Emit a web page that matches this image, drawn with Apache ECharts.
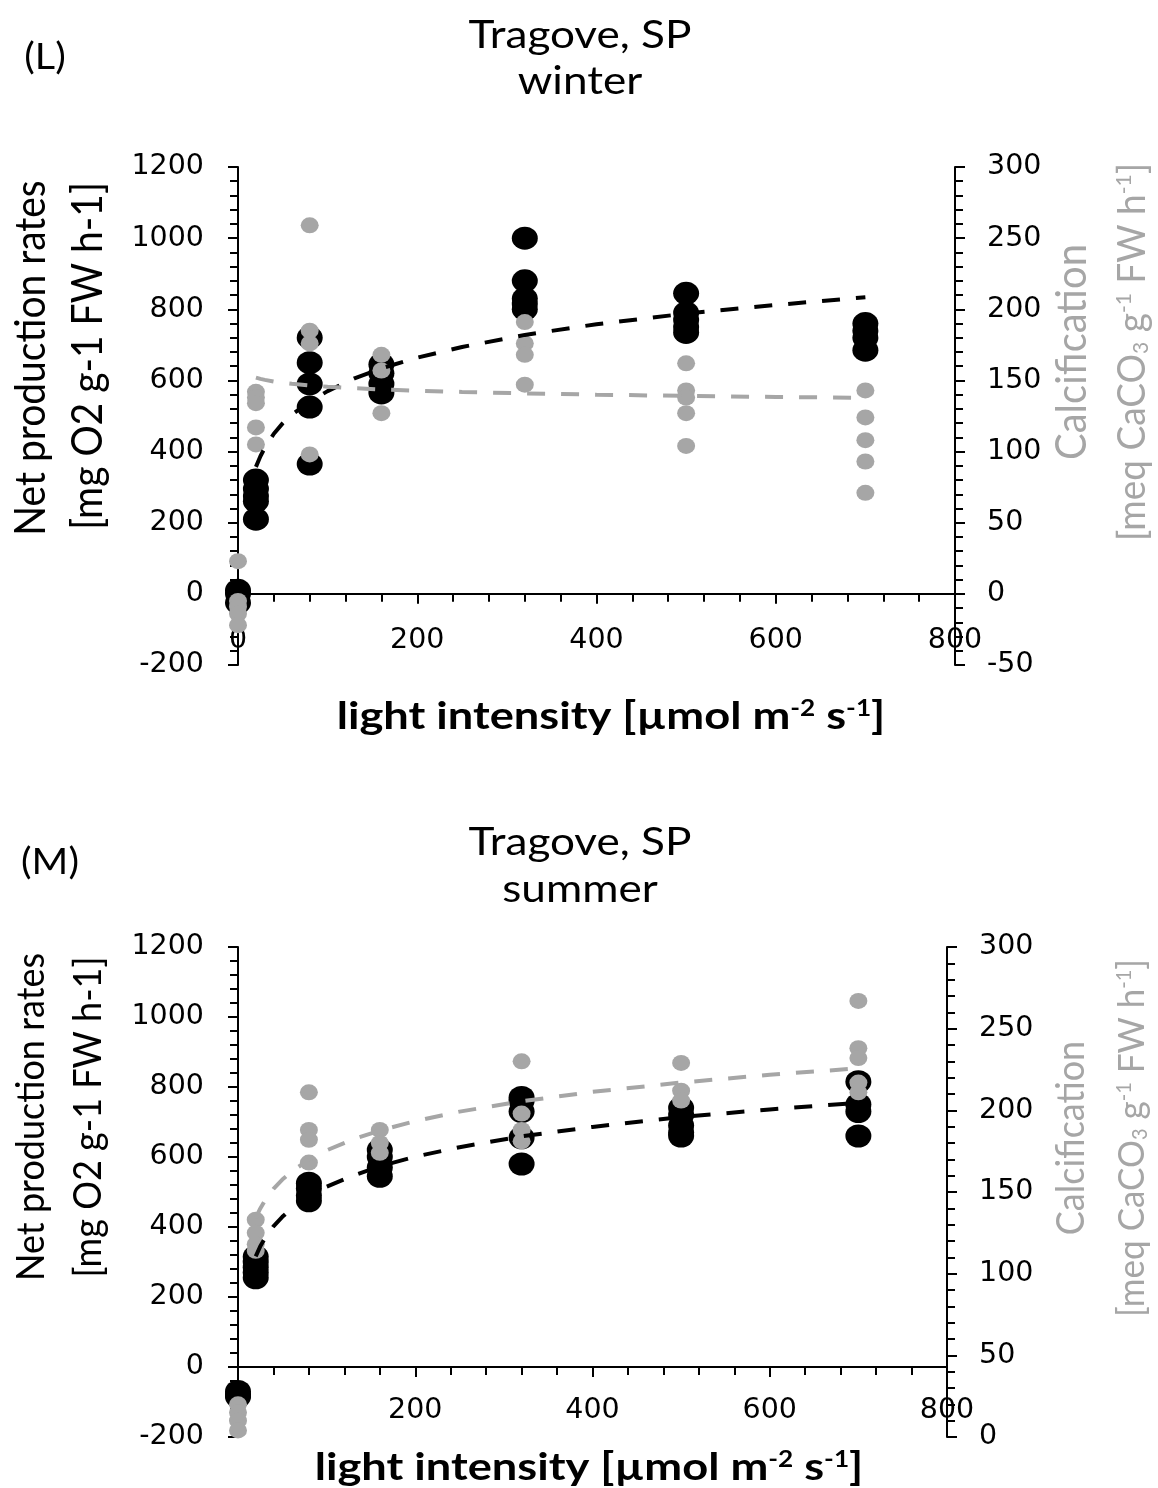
<!DOCTYPE html>
<html>
<head>
<meta charset="utf-8">
<script src="https://cdn.jsdelivr.net/npm/echarts@6/dist/echarts.min.js"></script>
<style>
  html, body { margin: 0; padding: 0; background: #ffffff; }
  #chart { width: 1158px; height: 1488px; }
</style>
</head>
<body>
<div id="chart"></div>
<script>
// Light levels used in the incubations (µmol m-2 s-1)
const lightLevels = [0, 20, 80, 160, 320, 500, 700];

// Winter: net production (mg O2 g-1 FW h-1), replicates per light level
const winterNet = [
  [10, 0, -25],
  [320, 295, 275, 260, 210],
  [720, 650, 590, 525, 365],
  [645, 620, 590, 565],
  [1000, 880, 830, 815, 800],
  [845, 790, 770, 750, 735],
  [760, 740, 720, 685]
];
// Winter: calcification (meq CaCO3 g-1 FW h-1)
const winterCalc = [
  [23, -5, -9, -14, -22],
  [142, 138, 134, 117, 105],
  [259, 185, 176, 98],
  [168, 157, 127],
  [191, 176, 168, 147],
  [162, 143, 138, 127, 104],
  [143, 124, 108, 93, 71]
];

// Summer: net production
const summerNet = [
  [-70, -80, -85],
  [315, 300, 285, 270, 255],
  [525, 510, 490, 475],
  [620, 600, 570, 545],
  [770, 760, 730, 655, 580],
  [740, 720, 690, 670, 660],
  [815, 750, 730, 660]
];
// Summer: calcification
const summerCalc = [
  [20, 15, 10, 4],
  [133, 125, 118, 114],
  [211, 188, 182, 168],
  [188, 180, 174],
  [230, 198, 188, 181],
  [229, 212, 206],
  [267, 238, 232, 217, 211]
];

// Fitted logarithmic trend curves, read at these light levels
const trendX = [20, 25, 30, 40, 50, 60, 80, 100, 130, 160, 200, 250, 320, 400, 500, 600, 700];
const winterNetTrend = [357, 387, 411, 450, 480, 504, 540, 570, 606, 634, 664, 694, 728, 758, 788, 812, 834];
const winterCalcTrend = [152, 151.1, 150.4, 149.2, 148.3, 147.6, 146.5, 145.6, 144.5, 143.7, 142.8, 141.9, 140.9, 140, 139.1, 138.4, 137.8];
const summerNetTrend = [316, 344, 366, 402, 429, 452, 487, 515, 547, 573, 601, 628, 659, 686, 714, 736, 755];
const summerCalcTrend = [134, 139.8, 144.5, 151.9, 157.6, 162.3, 169.8, 175.5, 182.3, 187.6, 193.4, 199.2, 205.5, 211.3, 217, 221.8, 225.7];

// Axis ticks
const lightTicks = { min: 0, max: 800, interval: 200 };
const netTicks = { min: -200, max: 1200, interval: 200 };
const winterCalcTicks = { min: -50, max: 300, interval: 50 };
const summerCalcTicks = { min: 0, max: 300, interval: 50 };

const BLACK = '#000000';
const GREY = '#a6a6a6';
const TITLE_FONT = 'Lato';
const TICK_FONT = 'DejaVu Sans';
const TICK_SIZE = 28.5;

function pairs(levels, groups) {
  const out = [];
  groups.forEach((vals, i) => vals.forEach(v => out.push([levels[i], v])));
  return out;
}
function zip(xs, ys) { return xs.map((x, i) => [x, ys[i]]); }

const tickStyle = { color: BLACK, width: 2 };
const plainNumber = v => String(v);

// x labels sit just under the zero line, so they are pulled up from the grid bottom
function xAxisFor(gridIndex, labelMargin) {
  return {
    type: 'value', gridIndex,
    min: lightTicks.min, max: lightTicks.max, interval: lightTicks.interval,
    axisLine: { show: true, onZero: true, lineStyle: { color: BLACK, width: 2 } },
    axisTick: { show: true, length: 10, lineStyle: tickStyle },
    minorTick: { show: true, splitNumber: 5, length: 8, lineStyle: tickStyle },
    splitLine: { show: false }, minorSplitLine: { show: false },
    axisLabel: { show: true, color: BLACK, fontFamily: TICK_FONT, fontSize: TICK_SIZE, margin: labelMargin, formatter: plainNumber }
  };
}
function yAxisFor(gridIndex, position, ticks) {
  return {
    type: 'value', gridIndex, position,
    min: ticks.min, max: ticks.max, interval: ticks.interval,
    axisLine: { show: true, onZero: false, lineStyle: { color: BLACK, width: 2 } },
    axisTick: { show: true, length: 10, lineStyle: tickStyle },
    minorTick: { show: true, splitNumber: 5, length: 8, lineStyle: tickStyle },
    splitLine: { show: false }, minorSplitLine: { show: false },
    axisLabel: { show: true, color: BLACK, fontFamily: TICK_FONT, fontSize: TICK_SIZE, margin: position === 'left' ? 34 : 32, formatter: plainNumber }
  };
}

function panelSeries(xIdx, yLeft, yRight, net, calc, netTrend, calcTrend) {
  return [
    {
      type: 'scatter', xAxisIndex: xIdx, yAxisIndex: yLeft,
      data: pairs(lightLevels, net),
      symbol: 'circle', symbolSize: [26, 23],
      itemStyle: { color: BLACK, opacity: 1 }, z: 2, silent: true
    },
    {
      type: 'scatter', xAxisIndex: xIdx, yAxisIndex: yRight,
      data: pairs(lightLevels, calc),
      symbol: 'circle', symbolSize: [18, 16],
      itemStyle: { color: GREY, opacity: 1 }, z: 3, silent: true
    },
    {
      type: 'line', xAxisIndex: xIdx, yAxisIndex: yLeft,
      data: zip(trendX, netTrend), smooth: false,
      showSymbol: false, symbol: 'none',
      lineStyle: { color: BLACK, width: 4, type: [18, 16] }, z: 4, silent: true
    },
    {
      type: 'line', xAxisIndex: xIdx, yAxisIndex: yRight,
      data: zip(trendX, calcTrend), smooth: false,
      showSymbol: false, symbol: 'none',
      lineStyle: { color: GREY, width: 4, type: [18, 16] }, z: 5, silent: true
    }
  ];
}

// Text helper: one line of (optionally rich) text centred on (x, y)
function text(x, y, str, opts) {
  const size = opts.fontSize || 38;
  const color = opts.color || BLACK;
  const weight = opts.fontWeight || 'normal';
  const style = {
    text: str,
    fill: color,
    align: 'center', verticalAlign: 'middle',
    textAlign: 'center', textVerticalAlign: 'middle',
    fontFamily: TITLE_FONT, fontSize: size, fontWeight: weight
  };
  if (opts.rich) {
    const small = Math.round(size * 0.58);
    style.rich = {
      m: { fontFamily: TITLE_FONT, fontSize: size, fontWeight: weight, lineHeight: size, fill: color },
      sup: { fontFamily: TITLE_FONT, fontSize: small, fontWeight: weight, verticalAlign: 'top', fill: color },
      sub: { fontFamily: TITLE_FONT, fontSize: small, fontWeight: weight, verticalAlign: 'bottom', fill: color }
    };
  }
  return {
    type: 'text', x, y, silent: true,
    rotation: opts.rotation || 0,
    scaleX: opts.scaleX || 1,
    scaleY: opts.scaleY || 1,
    style
  };
}

const UP = Math.PI / 2;
const leftTitle1 = 'Net production rates';
const leftTitle2 = '[mg O2 g-1 FW h-1]';
const rightTitle1 = 'Calcification';
const rightTitle2 = '{m|[meq CaCO}{sub|3}{m| g}{sup|-1}{m| FW h}{sup|-1}{m|]}';
const xTitle = '{m|light intensity [µmol m}{sup|-2}{m| s}{sup|-1}{m|]}';

const chart = echarts.init(document.getElementById('chart'), null, { renderer: 'canvas' });
chart.setOption({
  animation: false,
  backgroundColor: '#ffffff',
  grid: [
    { left: 238, top: 167, width: 717, height: 498, containLabel: false, outerBoundsMode: 'none' },
    { left: 238, top: 947, width: 709, height: 490, containLabel: false, outerBoundsMode: 'none' }
  ],
  xAxis: [xAxisFor(0, -39), xAxisFor(1, -41)],
  yAxis: [
    yAxisFor(0, 'left', netTicks),
    yAxisFor(0, 'right', winterCalcTicks),
    yAxisFor(1, 'left', netTicks),
    yAxisFor(1, 'right', summerCalcTicks)
  ],
  series: [].concat(
    panelSeries(0, 0, 1, winterNet, winterCalc, winterNetTrend, winterCalcTrend),
    panelSeries(1, 2, 3, summerNet, summerCalc, summerNetTrend, summerCalcTrend)
  ),
  graphic: [
    // panel (L)
    text(45, 57, '(L)', { fontSize: 36, scaleX: 1.1 }),
    text(580, 36, 'Tragove, SP', { fontSize: 38, scaleX: 1.16 }),
    text(580, 82, 'winter', { fontSize: 38, scaleX: 1.16 }),
    text(31, 358, leftTitle1, { rotation: UP, fontSize: 39, scaleY: 1.08 }),
    text(88, 356, leftTitle2, { rotation: UP, fontSize: 39, scaleY: 1.08 }),
    text(1072, 352, rightTitle1, { rotation: UP, fontSize: 40, color: GREY, scaleY: 1.05 }),
    text(1132, 352, rightTitle2, { rotation: UP, fontSize: 37, color: GREY, rich: true, scaleY: 1.05 }),
    text(611, 717, xTitle, { fontSize: 38, fontWeight: 'bold', rich: true, scaleX: 1.19 }),
    // panel (M)
    text(50, 862, '(M)', { fontSize: 36, scaleX: 1.1 }),
    text(580, 843, 'Tragove, SP', { fontSize: 38, scaleX: 1.16 }),
    text(580, 890, 'summer', { fontSize: 38, scaleX: 1.16 }),
    text(31, 1117, leftTitle1, { rotation: UP, fontSize: 36, scaleY: 1.08 }),
    text(88, 1117, leftTitle2, { rotation: UP, fontSize: 36, scaleY: 1.08 }),
    text(1072, 1138, rightTitle1, { rotation: UP, fontSize: 36, color: GREY, scaleY: 1.05 }),
    text(1132, 1138, rightTitle2, { rotation: UP, fontSize: 35, color: GREY, rich: true, scaleY: 1.05 }),
    text(589, 1468, xTitle, { fontSize: 38, fontWeight: 'bold', rich: true, scaleX: 1.19 })
  ]
});
</script>
</body>
</html>
